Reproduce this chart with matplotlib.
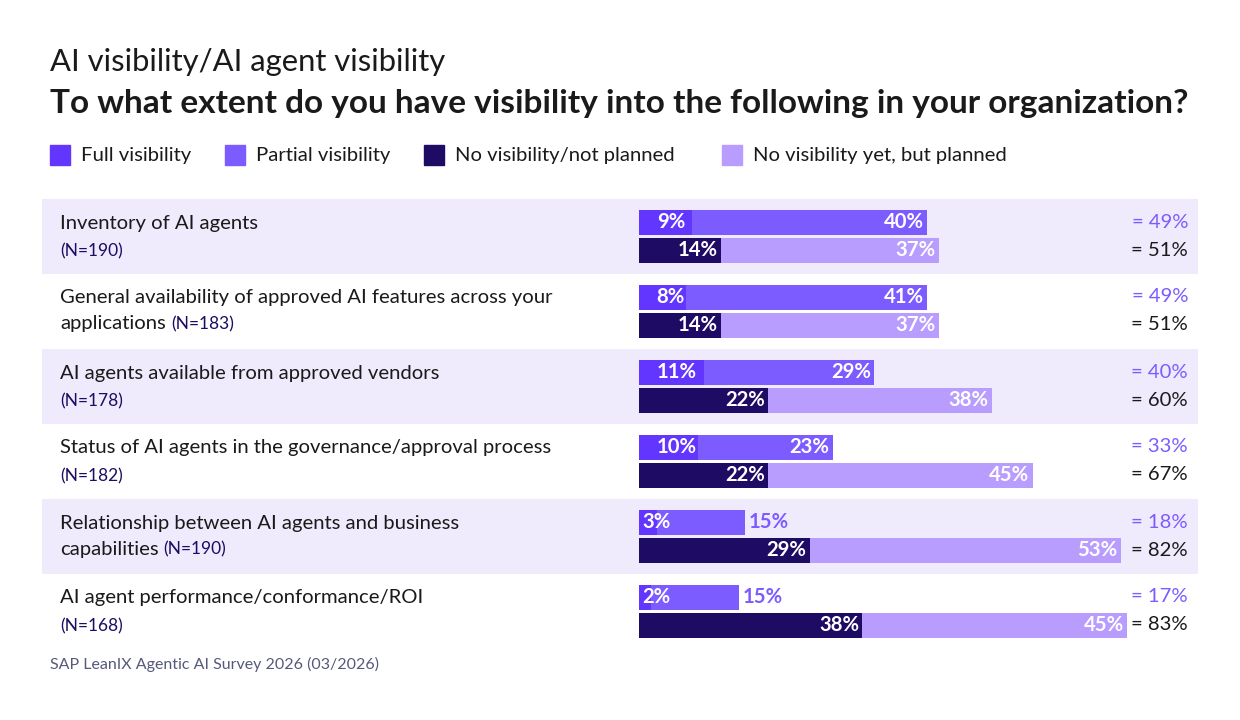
import matplotlib
matplotlib.use("Agg")
import matplotlib.pyplot as plt
from matplotlib.patches import Rectangle

plt.rcParams['font.family'] = ['Lato', 'DejaVu Sans']

categories = ["Inventory of AI agents",
              "General availability of approved AI features across your\napplications",
              "AI agents available from approved vendors",
              "Status of AI agents in the governance/approval process",
              "Relationship between AI agents and business\ncapabilities",
              "AI agent performance/conformance/ROI"]
n_labels = ["(N=190)", "(N=183)", "(N=178)", "(N=182)", "(N=190)", "(N=168)"]
n_inline = [False, True, False, False, True, False]
full = [9, 8, 11, 10, 3, 2]
partial = [40, 41, 29, 23, 15, 15]
not_planned = [14, 14, 22, 22, 29, 38]
planned = [37, 37, 38, 45, 53, 45]
vis_total = [49, 49, 40, 33, 18, 17]
novis_total = [51, 51, 60, 67, 82, 83]

C_FULL = "#6236ff"
C_PART = "#7c5cff"
C_NOT = "#1e0b64"
C_PLAN = "#b89dff"
C_BAND = "#efebfc"
C_TEXT = "#1a1a1a"

fig = plt.figure(figsize=(12.4, 7.2), dpi=100)
bg = fig.add_axes([0, 0, 1, 1])
bg.set_xlim(0, 1240); bg.set_ylim(720, 0); bg.axis("off")

bg.text(50, 62, "AI visibility/AI agent visibility", fontsize=22.3, color=C_TEXT, va="center")
bg.text(50, 103, "To what extent do you have visibility into the following in your organization?",
        fontsize=24, fontweight="bold", color=C_TEXT, va="center")

leg = [("Full visibility", C_FULL, 50), ("Partial visibility", C_PART, 225),
       ("No visibility/not planned", C_NOT, 424), ("No visibility yet, but planned", C_PLAN, 722)]
for lab, c, x in leg:
    bg.add_patch(Rectangle((x, 145), 20, 20, color=c))
    bg.text(x + 31, 155, lab, fontsize=14.6, color=C_TEXT, va="center")

centers = [236, 311, 386, 461, 536, 611]
for i, cy in enumerate(centers):
    if i % 2 == 0:
        bg.add_patch(Rectangle((42, cy - 37), 1156, 75, color=C_BAND, lw=0))
    if n_inline[i]:
        first, second = categories[i].split("\n")
        bg.text(60, cy - 13, first, fontsize=14.6, color=C_TEXT, va="center")
        t = bg.text(60, cy + 13, second, fontsize=14.6, color=C_TEXT, va="center")
        fig.canvas.draw()
        bb = t.get_window_extent()
        bg.text(bb.x1 + 5, cy + 13, n_labels[i], fontsize=12.5, color=C_NOT, va="center")
    else:
        bg.text(60, cy - 13, categories[i], fontsize=14.6, color=C_TEXT, va="center")
        bg.text(60, cy + 15, n_labels[i], fontsize=12.5, color=C_NOT, va="center")
    bg.text(1188, cy - 14, f"= {vis_total[i]}%", fontsize=14.6, color=C_PART, va="center", ha="right")
    bg.text(1188, cy + 14, f"= {novis_total[i]}%", fontsize=14.6, color=C_TEXT, va="center", ha="right")

bg.text(50, 664, "SAP LeanIX Agentic AI Survey 2026 (03/2026)", fontsize=11.5, color="#555a78", va="center")

pxpp = 5.88
ax = fig.add_axes([639 / 1240, 0, 601 / 1240, 1])
ax.set_xlim(0, 601 / pxpp); ax.set_ylim(720, 0); ax.axis("off")
ax.patch.set_alpha(0)
h = 25
for i, cy in enumerate(centers):
    yt, yb = cy - 14, cy + 14
    ax.barh(yt, full[i], height=h, color=C_FULL)
    ax.barh(yt, partial[i], left=full[i], height=h, color=C_PART)
    ax.barh(yb, not_planned[i], height=h, color=C_NOT)
    ax.barh(yb, planned[i], left=not_planned[i], height=h, color=C_PLAN)
    kw = dict(fontsize=14.6, fontweight="bold", va="center")
    ax.text(0.6 if full[i] < 5 else 3, yt, f"{full[i]}%", color="white", ha="left", **kw)
    if partial[i] >= 20:
        ax.text(full[i] + partial[i] - 0.6, yt, f"{partial[i]}%", color="white", ha="right", **kw)
    else:
        ax.text(full[i] + partial[i] + 0.6, yt, f"{partial[i]}%", color=C_PART, ha="left", **kw)
    ax.text(not_planned[i] - 0.6, yb, f"{not_planned[i]}%", color="white", ha="right", **kw)
    ax.text(not_planned[i] + planned[i] - 0.6, yb, f"{planned[i]}%", color="white", ha="right", **kw)

fig.savefig("out.png", dpi=100)
